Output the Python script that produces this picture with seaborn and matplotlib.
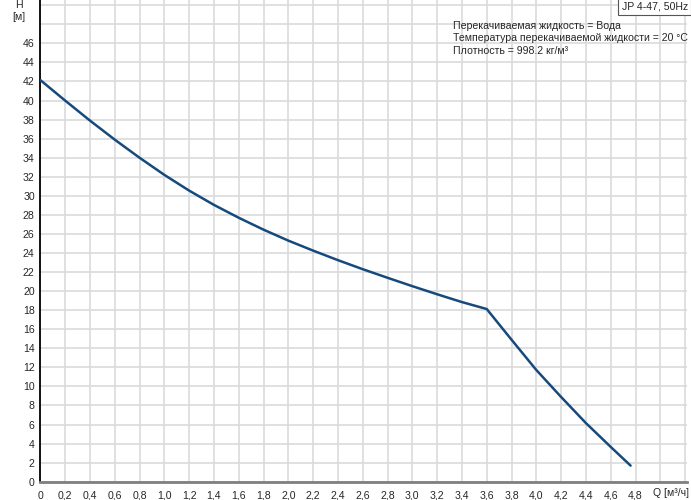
import numpy as np
import pandas as pd
import matplotlib
matplotlib.use("Agg")
import matplotlib.pyplot as plt
import seaborn as sns

# Data
q_values = [0.0, 0.2, 0.4, 0.6, 0.8, 1.0, 1.2, 1.4, 1.6, 1.8, 2.0, 2.2, 2.4, 2.6,
            2.8, 3.0, 3.2, 3.4, 3.6, 3.8, 4.0, 4.2, 4.4, 4.6, 4.76]
h_values = [42.15, 40.0, 37.9, 35.9, 34.0, 32.2, 30.55, 29.05, 27.7, 26.45, 25.3,
            24.25, 23.25, 22.3, 21.4, 20.52, 19.67, 18.85, 18.12, 14.9, 11.72, 8.89,
            6.15, 3.65, 1.69]
x_ticks = [round(0.2 * i, 1) for i in range(27)]
x_tick_labels = ["0"] + [f"{v:.1f}".replace(".", ",") for v in x_ticks[1:25]] + ["", ""]
y_ticks = list(range(0, 52, 2))
y_tick_labels = [str(v) for v in range(0, 48, 2)] + ["", ""]
info_lines = ["Перекачиваемая жидкость = Вода",
              "Температура перекачиваемой жидкости = 20 °C",
              "Плотность = 998.2 кг/м³"]
title_box = "JP 4-47, 50Hz"

sns.set_style("white")
plt.rcParams['font.family'] = ['Liberation Sans', 'DejaVu Sans']
FS = 7.6

df = pd.DataFrame({"Q": q_values, "H": h_values})

fig = plt.figure(figsize=(6.91, 5.0), dpi=100)
ax = fig.add_axes([40.3 / 691, 18.3 / 500, (687 - 40.3) / 691, 481.7 / 500])

sns.lineplot(data=df, x="Q", y="H", ax=ax, color="#174a7c", linewidth=1.8,
             sort=False, zorder=3)

ax.set_xlim(0, 5.215)
ax.set_ylim(0, 50.55)
ax.set_xticks(x_ticks)
ax.set_xticklabels(x_tick_labels, fontsize=FS)
ax.set_yticks(y_ticks)
ax.set_yticklabels(y_tick_labels, fontsize=FS)
ax.set_xlabel("")
ax.set_ylabel("")

ax.grid(True, color="#dadada", linewidth=1.2, zorder=0)
ax.set_axisbelow(True)
for s in ["top", "right"]:
    ax.spines[s].set_visible(False)
ax.spines["left"].set_color("black")
ax.spines["left"].set_linewidth(1.3)
ax.spines["bottom"].set_color("#808080")
ax.spines["bottom"].set_linewidth(2.0)
ax.tick_params(axis="x", direction="out", length=4, width=1, color="#333333", pad=2.5)
ax.tick_params(axis="y", direction="in", length=3, width=1, color="#333333", pad=4)

# axis unit labels
ax.text(-0.17, 50.0, "H", fontsize=FS, ha="center", va="center")
ax.text(-0.17, 48.8, "[м]", fontsize=FS, ha="center", va="center")
ax.text(4.94, -1.2, "Q [м³/ч]", fontsize=FS, ha="left", va="center")

# info text
for i, line in enumerate(info_lines):
    ax.text(3.33, 47.85 - 1.33 * i, line, fontsize=FS, ha="left", va="center")

fig.text(0.9955, 0.997, title_box, fontsize=FS, ha="right", va="top",
         bbox=dict(boxstyle="square,pad=0.3", facecolor="white", edgecolor="#555555",
                   linewidth=0.8))

fig.savefig("out.png", dpi=100)
